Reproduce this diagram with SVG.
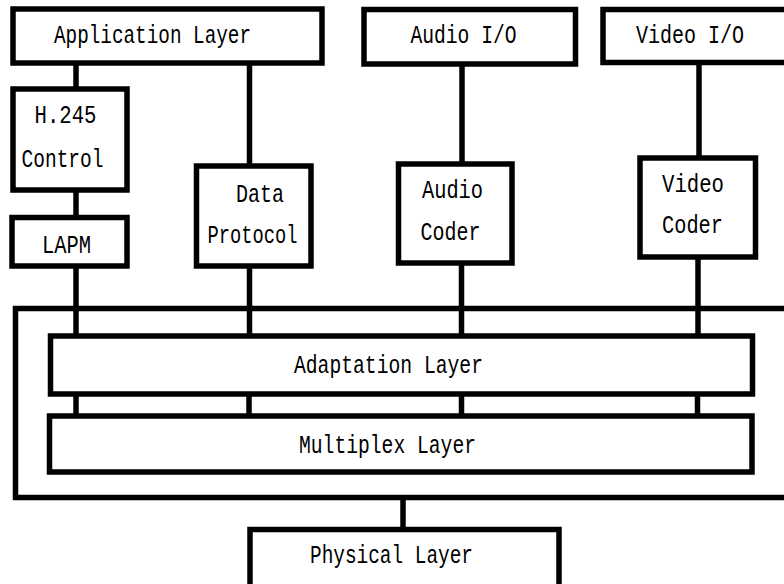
<svg xmlns="http://www.w3.org/2000/svg" width="784" height="584" viewBox="0 0 784 584">
  <style>
    .box { fill: #ffffff; stroke: #000000; stroke-width: 5.5; }
    .frame { fill: none; stroke: #000000; stroke-width: 5.5; }
    .link { stroke: #000000; stroke-width: 5.5; fill: none; }
    .label { font-family: "Liberation Mono", "DejaVu Sans Mono", monospace; font-size: 25px; fill: #000000; }
  </style>
  <rect width="784" height="584" fill="#ffffff"/>

  <!-- outer enclosure around the adaptation and multiplex layers -->
  <g id="stack-frame">
    <rect class="frame" x="15.5" y="308.5" width="790" height="189"/>
  </g>

  <g id="connectors">
    <!-- application side to control chain -->
    <line class="link" x1="76" y1="63" x2="76" y2="89"/>
    <line class="link" x1="76" y1="190" x2="76" y2="217.5"/>
    <line class="link" x1="76" y1="266" x2="76" y2="336"/>
    <!-- data protocol -->
    <line class="link" x1="249.5" y1="63" x2="249.5" y2="166"/>
    <line class="link" x1="249.5" y1="266" x2="249.5" y2="336"/>
    <!-- audio path -->
    <line class="link" x1="462" y1="64" x2="462" y2="164"/>
    <line class="link" x1="461.5" y1="263" x2="461.5" y2="336"/>
    <!-- video path -->
    <line class="link" x1="699" y1="62.5" x2="699" y2="158"/>
    <line class="link" x1="698" y1="257" x2="698" y2="336"/>
    <!-- adaptation to multiplex -->
    <line class="link" x1="76" y1="394" x2="76" y2="416"/>
    <line class="link" x1="249" y1="394" x2="249" y2="416"/>
    <line class="link" x1="461.5" y1="394" x2="461.5" y2="416"/>
    <line class="link" x1="697.5" y1="394" x2="697.5" y2="416"/>
    <!-- down to physical layer -->
    <line class="link" x1="403" y1="497.5" x2="403" y2="529.5"/>
  </g>

  <g id="application-layer">
    <rect class="box" x="13" y="9" width="309" height="54"/>
    <text class="label" x="54" y="43" textLength="197" lengthAdjust="spacingAndGlyphs">Application Layer</text>
  </g>

  <g id="audio-io">
    <rect class="box" x="364" y="9.5" width="211.5" height="54.5"/>
    <text class="label" x="410.5" y="43" textLength="106" lengthAdjust="spacingAndGlyphs">Audio I/O</text>
  </g>

  <g id="video-io">
    <rect class="box" x="603" y="9.5" width="200" height="53"/>
    <text class="label" x="636" y="43" textLength="108" lengthAdjust="spacingAndGlyphs">Video I/O</text>
  </g>

  <g id="h245-control">
    <rect class="box" x="13" y="89" width="114" height="101"/>
    <text class="label" x="34.5" y="123" textLength="62" lengthAdjust="spacingAndGlyphs">H.245</text>
    <text class="label" x="21.5" y="167" textLength="82" lengthAdjust="spacingAndGlyphs">Control</text>
  </g>

  <g id="lapm">
    <rect class="box" x="12" y="217.5" width="115" height="48.5"/>
    <text class="label" x="42" y="253" textLength="49" lengthAdjust="spacingAndGlyphs">LAPM</text>
  </g>

  <g id="data-protocol">
    <rect class="box" x="196.5" y="166" width="114.5" height="100"/>
    <text class="label" x="236" y="202" textLength="48" lengthAdjust="spacingAndGlyphs">Data</text>
    <text class="label" x="207.5" y="243" textLength="90" lengthAdjust="spacingAndGlyphs">Protocol</text>
  </g>

  <g id="audio-coder">
    <rect class="box" x="398.5" y="164" width="113.5" height="99"/>
    <text class="label" x="422" y="198" textLength="61" lengthAdjust="spacingAndGlyphs">Audio</text>
    <text class="label" x="420.5" y="240" textLength="60" lengthAdjust="spacingAndGlyphs">Coder</text>
  </g>

  <g id="video-coder">
    <rect class="box" x="640" y="158" width="115.5" height="99"/>
    <text class="label" x="662" y="192" textLength="62" lengthAdjust="spacingAndGlyphs">Video</text>
    <text class="label" x="662" y="233" textLength="61" lengthAdjust="spacingAndGlyphs">Coder</text>
  </g>

  <g id="adaptation-layer">
    <rect class="box" x="50.5" y="336" width="702" height="58"/>
    <text class="label" x="294" y="373" textLength="189" lengthAdjust="spacingAndGlyphs">Adaptation Layer</text>
  </g>

  <g id="multiplex-layer">
    <rect class="box" x="49.5" y="416" width="702.5" height="56"/>
    <text class="label" x="299" y="453" textLength="177" lengthAdjust="spacingAndGlyphs">Multiplex Layer</text>
  </g>

  <g id="physical-layer">
    <rect class="box" x="250" y="529.5" width="309" height="65"/>
    <text class="label" x="310" y="563" textLength="163" lengthAdjust="spacingAndGlyphs">Physical Layer</text>
  </g>
</svg>
